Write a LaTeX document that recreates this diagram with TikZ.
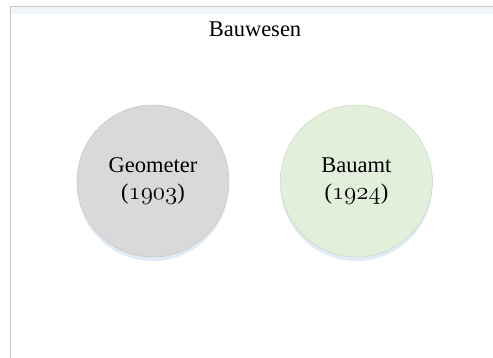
\documentclass[tikz,border=0pt]{standalone}
\usepackage{fontspec}
\setmainfont{Liberation Serif}
\usepackage{tikz}
\usetikzlibrary{positioning, shadows}
\definecolor{framegray}{HTML}{C6C6C6}
\definecolor{topband}{HTML}{F2F6FA}
\definecolor{geofill}{HTML}{D9D9D9}
\definecolor{geoedge}{HTML}{C0C0C0}
\definecolor{amtfill}{HTML}{E2EFDA}
\definecolor{amtedge}{HTML}{C4D3BC}
\definecolor{glow}{HTML}{DAE6F3}
\def\oldnum#1{{\fontsize{25}{27}\usefont{OML}{cmm}{m}{it}#1}}
\tikzstyle{bigfont}=[font=\fontsize{22.5}{27}\selectfont]
\tikzstyle{unitcircle}=[circle,bigfont,align=center,minimum size=152pt,
inner sep=0pt,
drop shadow={shadow xshift=0pt,shadow yshift=-4pt,fill=glow,opacity=0.8}]
\tikzstyle{titlebox}=[rectangle,bigfont,inner sep=0pt]

\begin{document}
\begin{tikzpicture}[x=1pt,y=1pt]
        \useasboundingbox (0,0) rectangle (493,358);
        % frame
        \fill[topband] (10.5,351.5) rectangle (493,344);
        \draw[framegray,line width=1.2pt] (10.5,0) |- (493,351.5);

        \node[titlebox] (title) at (255,329) {Bauwesen};

        \node[unitcircle, fill=geofill, draw=geoedge] (geometer) at (153,177)
            {Geometer\\(\oldnum{1903})};
        \node[unitcircle, fill=amtfill, draw=amtedge, right=51pt of geometer]
            (bauamt) {Bauamt\\(\oldnum{1924})};
    \end{tikzpicture}
\end{document}
